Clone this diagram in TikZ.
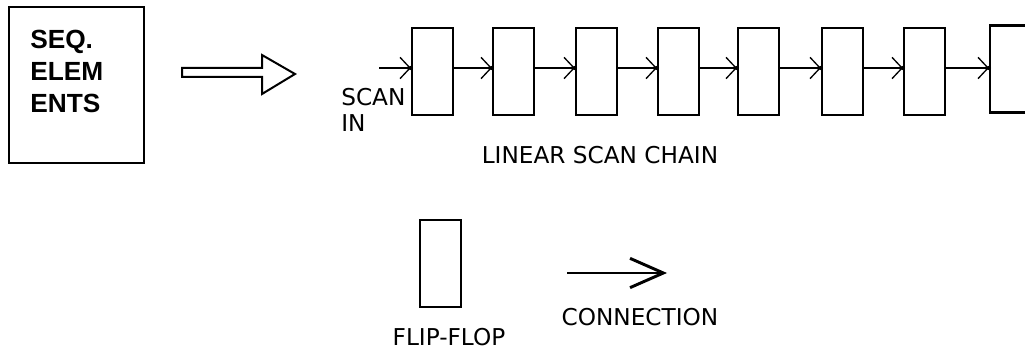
\documentclass[tikz,border=0pt]{standalone}
\usepackage{fontspec}
\setmainfont{DejaVu Sans}
\newfontfamily\seqfont{Liberation Sans}
\usetikzlibrary{arrows.meta}
\tikzset{
  ff/.style={draw, line width=1.6pt, minimum width=30.75pt, minimum height=65.25pt, inner sep=0pt},
  chainarrow/.style={line width=1.5pt, -{Straight Barb[length=7.5pt,width=16pt,line width=1pt]}},
  conn/.style={line width=2.2pt, -{Straight Barb[length=25pt,width=22pt,line width=2.2pt]}},
  lbl/.style={inner sep=0pt, font=\fontsize{17.4}{19.5}\selectfont},
  seqlbl/.style={inner sep=0pt, align=left, font=\seqfont\bfseries\fontsize{19.7}{24}\selectfont},
  tipdot/.style={fill=black}
}
\begin{document}
\begin{tikzpicture}[x=0.75pt,y=-0.75pt]
\clip (0,0) rectangle (1025,349);
\fill[white] (0,0) rectangle (1025,349);
% sequential elements box
\node[draw, line width=1.6pt, minimum width=101.25pt, minimum height=117pt, inner sep=0pt] (seq) at (76.5,85) {};
\node[seqlbl, anchor=north west] (seqtext) at (30,30) {SEQ.\\ELEM\\ENTS};
% hollow arrow
\draw[line width=1.5pt] (182,68) -- (262,68) -- (262,55) -- (295,74) -- (262,94) -- (262,77) -- (182,77) -- cycle;
% scan chain
\coordinate (row) at (0,68);
\node[ff] (f1) at (432.5,71.5) {};
\node[ff] (f2) at (513.5,71.5) {};
\node[ff] (f3) at (596.5,71.5) {};
\node[ff] (f4) at (678.5,71.5) {};
\node[ff] (f5) at (758.5,71.5) {};
\node[ff] (f6) at (842.5,71.5) {};
\node[ff] (f7) at (924.5,71.5) {};
\node[ff] (f8) at (1010.5,69) {};
\coordinate (sin) at (379,68);
\draw[chainarrow] (sin) -- (f1.west |- row);
\fill[tipdot] (f1.west |- row) circle (1.6pt);
\foreach \a/\b in {f1/f2,f2/f3,f3/f4,f4/f5,f5/f6,f6/f7,f7/f8}{
  \draw[chainarrow] (\a.east |- row) -- (\b.west |- row);
  \fill[tipdot] (\b.west |- row) circle (1.6pt);
}
\node[lbl, anchor=north west, align=left] (scanin) at (341,88) {SCAN\\IN};
\node[lbl] (chainlbl) at (600,155) {LINEAR SCAN CHAIN};
% legend
\node[ff] (legff) at (440.5,263.5) {};
\node[lbl] (fflbl) at (449,337) {FLIP-FLOP};
\coordinate (c1) at (567,273);
\coordinate (c2) at (667,273);
\draw[conn] (c1) -- (c2);
\node[lbl] (connlbl) at (640,317) {CONNECTION};
\end{tikzpicture}
\end{document}
